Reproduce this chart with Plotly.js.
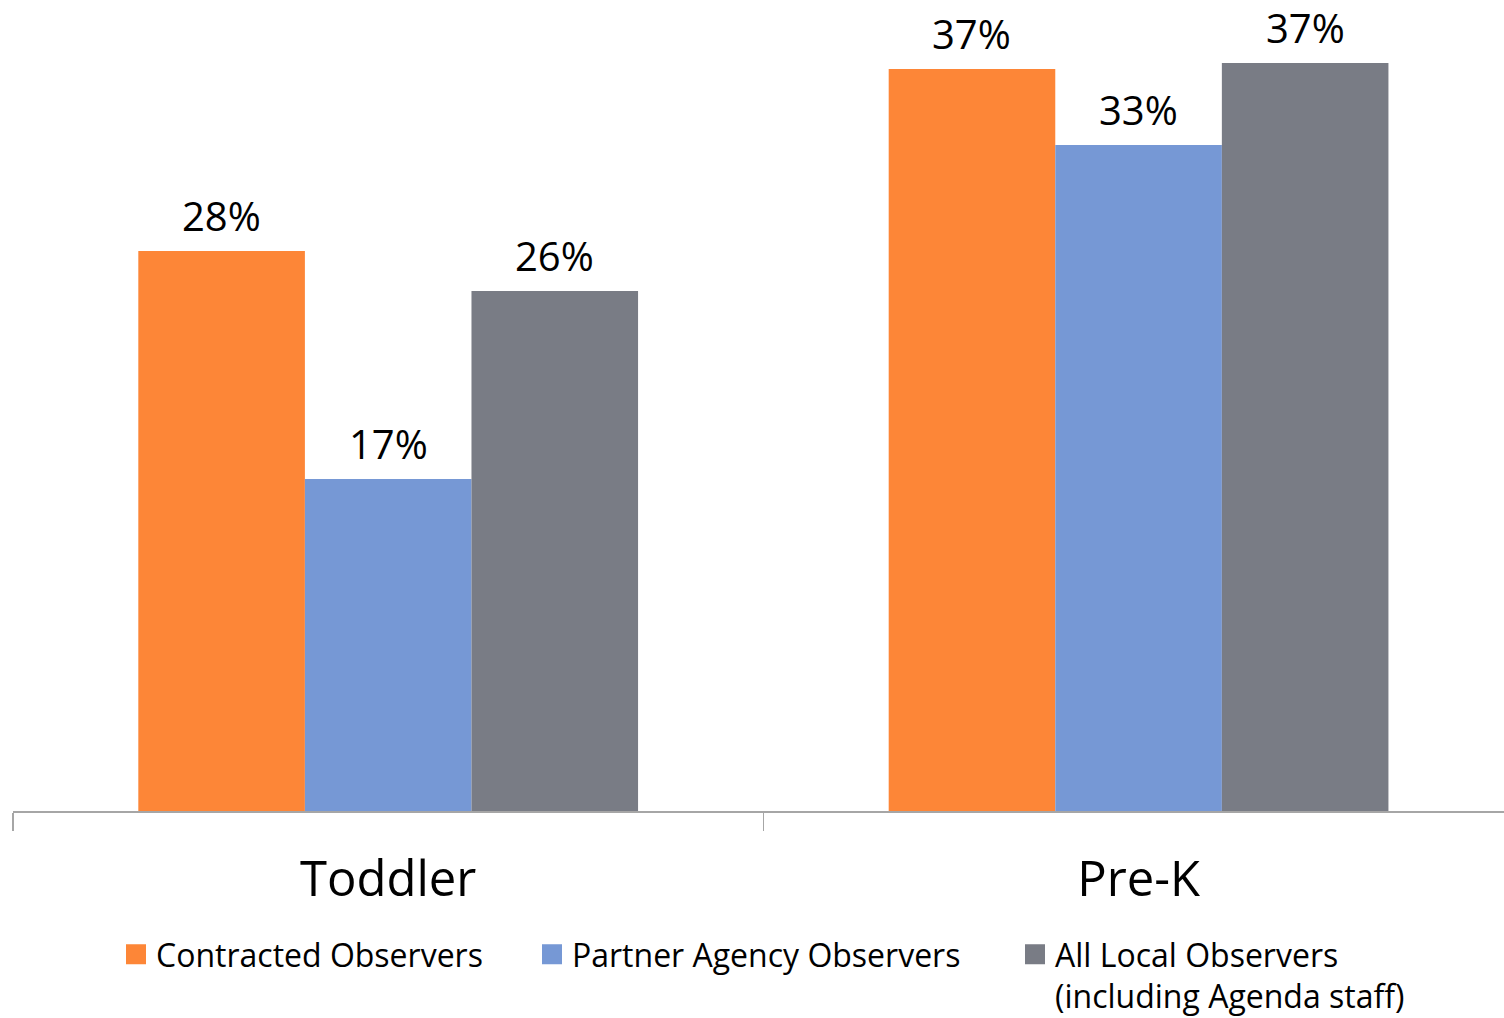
<!DOCTYPE html>
<html>
<head>
<meta charset="utf-8">
<script src="https://cdn.plot.ly/plotly-3.0.1.min.js"></script>
<style>html,body{margin:0;padding:0;background:#fff;}#chart{width:1504px;height:1018px;}</style>
</head>
<body>
<div id="chart"></div>
<script>
var categories = ["Toddler", "Pre-K"];
var seriesNames = ["Contracted Observers", "Partner Agency Observers", "All Local Observers<br>(including Agenda staff)"];
var contracted = [28.0, 37.1];
var partner = [16.6, 33.3];
var allLocal = [26.0, 37.4];
var contractedLabels = ["28%", "37%"];
var partnerLabels = ["17%", "33%"];
var allLocalLabels = ["26%", "37%"];

var colors = ["#FD8637", "#7698D5", "#797C85"];
var values = [contracted, partner, allLocal];
var labels = [contractedLabels, partnerLabels, allLocalLabels];
var FONT = "Open Sans, Noto Sans, sans-serif";
var bargap = 0.334;
var barW = (1 - bargap) / 3;

var traces = [];
values.forEach(function(v, i){
  traces.push({type:"bar", x:categories, y:v, marker:{color:colors[i]}, showlegend:false, hoverinfo:"skip"});
});
var legendIds = ["legend", "legend2", "legend3"];
seriesNames.forEach(function(n, i){
  traces.push({type:"scatter", mode:"markers", x:[null], y:[null], name:n,
    marker:{symbol:"square", size:16, color:colors[i], line:{color:colors[i], width:4}},
    legend:legendIds[i], showlegend:true, hoverinfo:"skip"});
});

var annotations = [];
values.forEach(function(v, i){
  v.forEach(function(val, c){
    annotations.push({x: c + (i - 1) * barW, y: val, xref:"x", yref:"y", text: labels[i][c],
      showarrow:false, yanchor:"bottom", yshift:7, borderpad:0, font:{family:FONT, size:40, color:"#000"}});
  });
});

var legendBase = {orientation:"h", xref:"container", yref:"container", xanchor:"left", yanchor:"top",
  font:{family:FONT, size:32, color:"#000"}, bgcolor:"rgba(0,0,0,0)", borderwidth:0, valign:"top"};
function lg(x){ var o = Object.assign({}, legendBase); o.x = x; o.y = 1 - 927/1018; return o; }

var layout = {
  width:1504, height:1018,
  margin:{l:13, r:0, t:11, b:207},
  paper_bgcolor:"#fff", plot_bgcolor:"#fff",
  barmode:"group", bargap:bargap, bargroupgap:0,
  xaxis:{type:"category", range:[-0.5, 1.487], fixedrange:true, showline:true, linecolor:"#a6a6a6", linewidth:1.5,
    ticks:"outside", tickson:"boundaries", ticklen:18, tickcolor:"#a6a6a6", tickwidth:1.5,
    ticklabelstandoff:25,
    tickfont:{family:FONT, size:49, color:"#000"}, showgrid:false, zeroline:false},
  yaxis:{range:[0, 40], visible:false, fixedrange:true, showgrid:false, zeroline:false},
  annotations:annotations,
  legend:lg(116/1504),
  legend2:lg(532/1504),
  legend3:lg(1015/1504),
  showlegend:true
};

Plotly.newPlot("chart", traces, layout, {staticPlot:true, displayModeBar:false});
</script>
</body>
</html>
